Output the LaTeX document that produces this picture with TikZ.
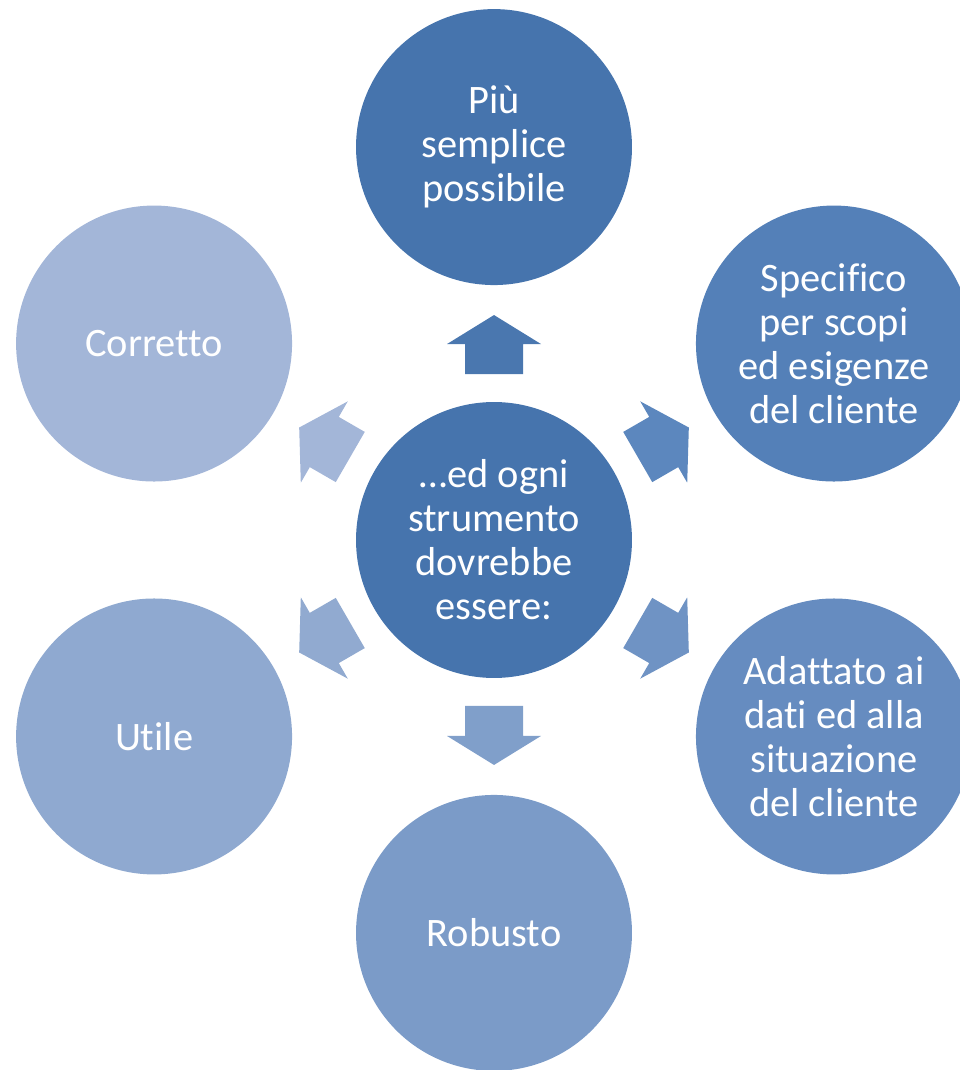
\documentclass[tikz,border=0pt]{standalone}
\usepackage{fontspec}
\setmainfont{Carlito}[Ligatures=NoCommon]
\usepackage{tikz}
\usetikzlibrary{positioning}
\definecolor{coreblue}{HTML}{4674AD}
\definecolor{blueA}{HTML}{4674AD}
\definecolor{blueB}{HTML}{5480B8}
\definecolor{blueC}{HTML}{668CC0}
\definecolor{blueD}{HTML}{7B9BC8}
\definecolor{blueE}{HTML}{8FA9D0}
\definecolor{blueF}{HTML}{A3B6D8}
\definecolor{arrA}{HTML}{4A77AF}
\definecolor{arrB}{HTML}{5C87BE}
\definecolor{arrC}{HTML}{6F93C4}
\definecolor{arrD}{HTML}{809FCA}
\definecolor{arrE}{HTML}{91AAD0}
\definecolor{arrF}{HTML}{A3B6D8}

\begin{document}
\begin{tikzpicture}[
  x=0.02cm, y=-0.02cm,
  bubble/.style={circle, fill=#1, minimum size=5.52cm, inner sep=0pt,
                 text=white, align=center, font=\fontsize{23}{25}\selectfont},
  node distance=7.86cm and 6.8cm, on grid
]
  \useasboundingbox (0,0) rectangle (959,1070);

  \node[bubble=coreblue] (core) at (494,540) {…ed ogni\\strumento\\dovrebbe\\essere:};
  \node[bubble=blueA] (simple) [above=7.86cm of core]                  {Più\\semplice\\possibile};
  \node[bubble=blueB] (scope)  [above right=3.93cm and 6.8cm of core]  {Specifico\\per scopi\\ed esigenze\\del cliente};
  \node[bubble=blueC] (fit)    [below right=3.93cm and 6.8cm of core]  {Adattato ai\\dati ed alla\\situazione\\del cliente};
  \node[bubble=blueD] (robust) [below=7.86cm of core]                  {Robusto};
  \node[bubble=blueE] (useful) [below left=3.93cm and 6.8cm of core]   {Utile};
  \node[bubble=blueF] (right)  [above left=3.93cm and 6.8cm of core]   {Corretto};

  % block arrows from the core outwards
  \foreach \ang/\col in {90/arrA, 30/arrB, -30/arrC, -90/arrD, -150/arrE, 150/arrF}
    \fill[\col, shift={(core.center)}, rotate=\ang]
      (3.32cm,-0.58cm) -- (3.92cm,-0.58cm) -- (3.92cm,-0.94cm) -- (4.5cm,0cm)
      -- (3.92cm,0.94cm) -- (3.92cm,0.58cm) -- (3.32cm,0.58cm) -- cycle;
\end{tikzpicture}
\end{document}
